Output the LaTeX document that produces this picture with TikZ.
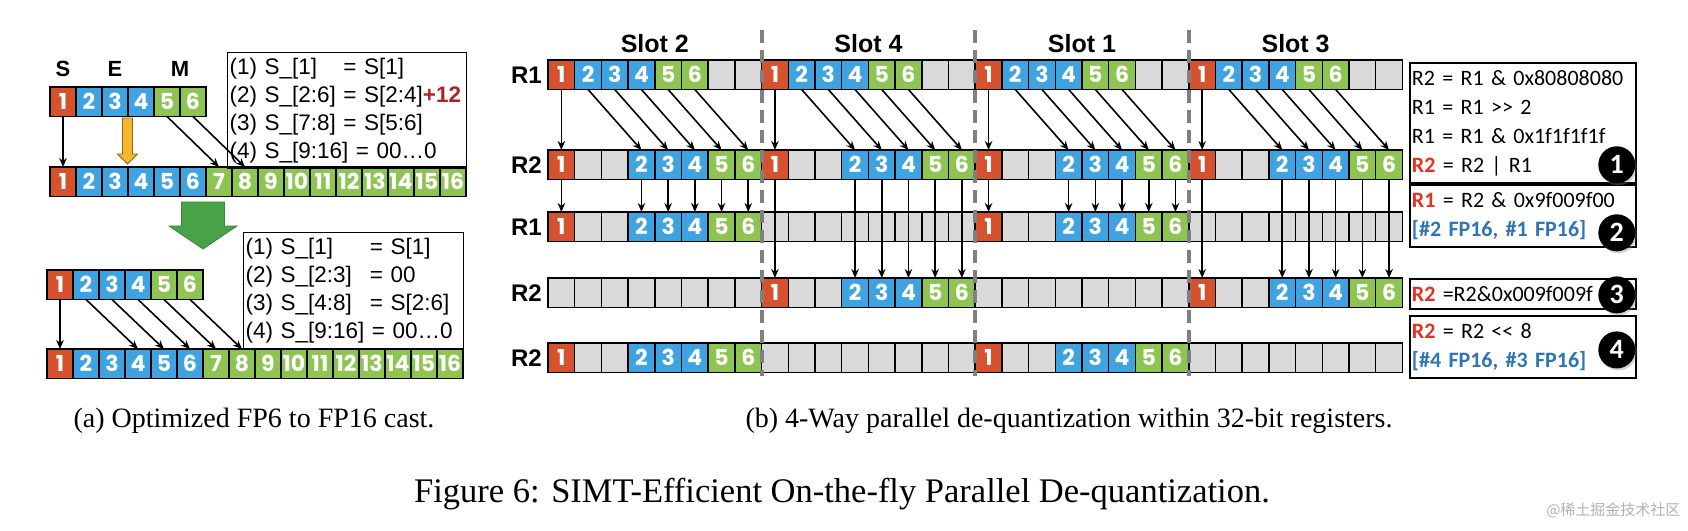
\documentclass[tikz,border=0pt]{standalone}
\usepackage{fontspec}
\setmainfont{Liberation Serif}
\newfontfamily\arialfont{Liberation Sans}
\newfontfamily\califont{Carlito}
\newfontfamily\digitfont{Poppins}
\newfontfamily\cjkfont{Noto Sans CJK SC}
\usepackage{xcolor}
\usepackage{tikz}
\usetikzlibrary{positioning}
\usetikzlibrary{arrows.meta}
\usetikzlibrary{shadows}

\definecolor{bitred}{RGB}{214,82,46}
\definecolor{bitblue}{RGB}{62,163,224}
\definecolor{bitgreen}{RGB}{141,196,82}
\definecolor{bitgray}{RGB}{217,217,217}
\definecolor{sepgray}{RGB}{128,128,128}
\definecolor{castorange}{RGB}{246,183,45}
\definecolor{castbrown}{RGB}{150,100,25}
\definecolor{stepgreen}{RGB}{72,163,72}
\definecolor{opred}{RGB}{232,48,32}
\definecolor{opblue}{RGB}{46,117,182}
\definecolor{biasred}{RGB}{178,34,34}

% contents of one 8-bit slot
\def\slotfull{1/bitred,2/bitblue,3/bitblue,4/bitblue,5/bitgreen,6/bitgreen,/bitgray,/bitgray}
\def\slotshift{1/bitred,/bitgray,/bitgray,2/bitblue,3/bitblue,4/bitblue,5/bitgreen,6/bitgreen}
\def\slotempty{/bitgray,/bitgray,/bitgray,/bitgray,/bitgray,/bitgray,/bitgray,/bitgray}

% row name, top, slot, contents
\newcommand\slotcells[4]{%
  \foreach \lbl/\clr [count=\k] in #4 {
    \pgfmathtruncatemacro\n{#3*8+\k}
    \node[regbit, fill=\clr] (#1-\n) at ({548+26.7*(\n-1)}, #2) {\lbl};
  }}

\begin{document}
\begin{tikzpicture}[
    x = 1pt,
    y = -1pt,
    fpbit/.style = {
      rectangle,
      draw=black,
      line width=1.5pt,
      minimum width=26pt,
      minimum height=29.5pt,
      inner sep=0pt,
      outer sep=0pt,
      anchor=north west,
      text=white,
      font=\digitfont\bfseries\fontsize{22}{22}\selectfont
    },
    regbit/.style = {
      fpbit,
      minimum width=26.7pt
    },
    bitarrow/.style = {
      -{Stealth[length=9pt,width=7.5pt]},
      line width=1.6pt
    },
    fieldname/.style = {
      font=\arialfont\bfseries\fontsize{22}{22}\selectfont,
      inner sep=1pt
    },
    regname/.style = {
      font=\arialfont\bfseries\fontsize{24}{24}\selectfont,
      inner sep=1pt
    },
    slotname/.style = {
      font=\arialfont\bfseries\fontsize{25}{25}\selectfont,
      inner sep=1pt
    },
    rulebox/.style = {
      draw=black,
      line width=1.3pt,
      anchor=north west,
      inner sep=2pt,
      align=left,
      font=\arialfont\fontsize{22.5}{28}\selectfont
    },
    opbox/.style = {
      draw=black,
      line width=1.8pt,
      anchor=north west,
      text width=222pt,
      inner sep=2pt,
      align=left,
      font=\califont\fontsize{22}{29}\selectfont
    },
    stepmark/.style = {
      circle,
      fill=black,
      text=white,
      minimum size=37pt,
      inner sep=0pt,
      font=\califont\bfseries\fontsize{28}{28}\selectfont,
      drop shadow={shadow xshift=1.5pt, shadow yshift=-2pt, opacity=.35}
    },
    slotsep/.style = {
      sepgray,
      line width=4pt,
      dash pattern=on 13pt off 7pt
    },
    subcap/.style = {
      font=\fontsize{28}{32}\selectfont
    }
  ]
    \useasboundingbox (0,0) rectangle (1688,530);

    % (a) optimized cast
    \foreach \i/\clr in {1/bitred,2/bitblue,3/bitblue,4/bitblue,5/bitgreen,6/bitgreen}
      \node[fpbit, fill=\clr] (sa-\i) at ({50+26*(\i-1)}, 87) {\i};
    \foreach \i in {1,...,16} {
      \ifnum\i=1 \def\clr{bitred}\else\ifnum\i<7 \def\clr{bitblue}\else\def\clr{bitgreen}\fi\fi
      \node[fpbit, fill=\clr] (ta-\i) at ({50+26*(\i-1)}, 167) {\i};
    }
    \node[fieldname, above=9pt of sa-1] (fs) {S};
    \node[fieldname, above=9pt of sa-3] (fe) {E};
    \node[fieldname, above=9pt of sa-5.north east] (fm) {M};

    \node[rulebox, text width=235pt, minimum height=115pt] (rules1) at (227,52) {%
      \begin{tabular}{@{}l@{\ }l@{}}
        (1) S\_[1] & = S[1]\\
        (2) S\_[2:6] & = S[2:4]\textcolor{biasred}{\bfseries +12}\\
        (3) S\_[7:8] & = S[5:6]\\
        \multicolumn{2}{@{}l@{}}{(4) S\_[9:16] = 00…0}
      \end{tabular}};

    \draw[bitarrow] (sa-1.south) -- (ta-1.north);
    \draw[bitarrow] (sa-5.south) -- (ta-7.north);
    \draw[bitarrow] (sa-6.south) -- (ta-8.north);
    \filldraw[fill=castorange, draw=castbrown, line width=0.8pt]
      (122.5,118) -- (132.5,118) -- (132.5,154) -- (137.5,154) -- (127.5,164)
      -- (117.5,154) -- (122.5,154) -- cycle;

    \filldraw[fill=stepgreen, draw=stepgreen!80!black, line width=0.8pt]
      (181.5,202) -- (224.5,202) -- (224.5,226) -- (237,226) -- (203,249)
      -- (169,226) -- (181.5,226) -- cycle;

    \foreach \i/\clr in {1/bitred,2/bitblue,3/bitblue,4/bitblue,5/bitgreen,6/bitgreen}
      \node[fpbit, fill=\clr] (sb-\i) at ({47+26*(\i-1)}, 270) {\i};
    \foreach \i in {1,...,16} {
      \ifnum\i=1 \def\clr{bitred}\else\ifnum\i<7 \def\clr{bitblue}\else\def\clr{bitgreen}\fi\fi
      \node[fpbit, fill=\clr] (tb-\i) at ({47+26*(\i-1)}, 349) {\i};
    }

    \node[rulebox, text width=216pt, minimum height=114pt] (rules2) at (243,232) {%
      \begin{tabular}{@{}l@{\hspace{18pt}}l@{}}
        (1) S\_[1] & = S[1]\\
        (2) S\_[2:3] & = 00\\
        (3) S\_[4:8] & = S[2:6]\\
        \multicolumn{2}{@{}l@{}}{(4) S\_[9:16] = 00…0}
      \end{tabular}};

    \draw[bitarrow] (sb-1.south) -- (tb-1.north);
    \foreach \k in {2,...,6} {
      \pgfmathtruncatemacro\n{\k+2}
      \draw[bitarrow] (sb-\k.south) -- (tb-\n.north);
    }

    % (b) four slots in 32-bit registers
    \foreach \s in {0,...,3} {
      \slotcells{ra}{60}{\s}{\slotfull}
      \slotcells{rb}{150}{\s}{\slotshift}
    }
    \slotcells{rc}{212}{0}{\slotshift}
    \slotcells{rc}{212}{1}{\slotempty}
    \slotcells{rc}{212}{2}{\slotshift}
    \slotcells{rc}{212}{3}{\slotempty}
    \slotcells{rd}{278}{0}{\slotempty}
    \slotcells{rd}{278}{1}{\slotshift}
    \slotcells{rd}{278}{2}{\slotempty}
    \slotcells{rd}{278}{3}{\slotshift}
    \slotcells{re}{343}{0}{\slotshift}
    \slotcells{re}{343}{1}{\slotempty}
    \slotcells{re}{343}{2}{\slotshift}
    \slotcells{re}{343}{3}{\slotempty}

    \node[regname, left=5pt of ra-1] (nra) {R1};
    \node[regname, left=5pt of rb-1] (nrb) {R2};
    \node[regname, left=5pt of rc-1] (nrc) {R1};
    \node[regname, left=5pt of rd-1] (nrd) {R2};
    \node[regname, left=5pt of re-1] (nre) {R2};

    \node[slotname, above=6pt of ra-4.north east] (slot2) {Slot 2};
    \node[slotname, above=6pt of ra-12.north east] (slot4) {Slot 4};
    \node[slotname, above=6pt of ra-20.north east] (slot1) {Slot 1};
    \node[slotname, above=6pt of ra-28.north east] (slot3) {Slot 3};

    \foreach \s in {0,...,3} {
      \pgfmathtruncatemacro\n{8*\s+1}
      \draw[bitarrow] (ra-\n.south) -- (rb-\n.north);
      \foreach \k in {2,...,6} {
        \pgfmathtruncatemacro\m{8*\s+\k}
        \pgfmathtruncatemacro\n{\m+2}
        \draw[bitarrow] (ra-\m.south) -- (rb-\n.north);
      }
    }
    \foreach \s in {0,2}
      \foreach \k in {1,4,5,6,7,8} {
        \pgfmathtruncatemacro\n{8*\s+\k}
        \draw[bitarrow] (rb-\n.south) -- (rc-\n.north);
      }
    \foreach \s in {1,3}
      \foreach \k in {1,4,5,6,7,8} {
        \pgfmathtruncatemacro\n{8*\s+\k}
        \draw[bitarrow] (rb-\n.south) -- (rd-\n.north);
      }

    \foreach \s in {1,2,3}
      \draw[slotsep] ({548+213.6*\s}, 30) -- ({548+213.6*\s}, 376);

    \node[opbox, minimum height=117pt] (op1) at (1409,62) {%
      \begin{tabular}{@{}l@{}}
        R2 = R1 \& 0x80808080\\
        R1 = R1 >{}> 2\\
        R1 = R1 \& 0x1f1f1f1f\\
        \textcolor{opred}{\bfseries R2} = R2 | R1
      \end{tabular}};
    \node[opbox, minimum height=59pt] (op2) at (1409,184) {%
      \begin{tabular}{@{}l@{}}
        \textcolor{opred}{\bfseries R1} = R2 \& 0x9f009f00\\
        \textcolor{opblue}{\bfseries [\#2 FP16, \#1 FP16]}
      \end{tabular}};
    \node[opbox, minimum height=30pt] (op3) at (1409,278)
      {\textcolor{opred}{\bfseries R2} =R2\&0x009f009f};
    \node[opbox, minimum height=58pt] (op4) at (1409,315) {%
      \begin{tabular}{@{}l@{}}
        \textcolor{opred}{\bfseries R2} = R2 <{}< 8\\
        \textcolor{opblue}{\bfseries [\#4 FP16, \#3 FP16]}
      \end{tabular}};

    \node[stepmark] (step1) at ([xshift=-20pt,yshift=19pt]op1.south east) {1};
    \node[stepmark] (step2) at ([xshift=-20pt,yshift=15pt]op2.south east) {2};
    \node[stepmark] (step3) at ([xshift=-20pt,yshift=-1pt]op3.east) {3};
    \node[stepmark] (step4) at ([xshift=-20pt,yshift=-3pt]op4.east) {4};

    % captions
    \node[subcap] (capa) at (254,421) {(a) Optimized FP6 to FP16 cast.};
    \node[subcap] (capb) at (1069,421) {(b) 4-Way parallel de-quantization within 32-bit registers.};
    \node[font=\fontsize{34.5}{40}\selectfont] (capfig) at (842,494)
      {Figure 6: SIMT-Efficient On-the-fly Parallel De-quantization.};
    \node[font=\cjkfont\fontsize{15}{15}\selectfont, text=black!30, anchor=east] (mark) at (1684,510)
      {@稀土掘金技术社区};

  \end{tikzpicture}
\end{document}
